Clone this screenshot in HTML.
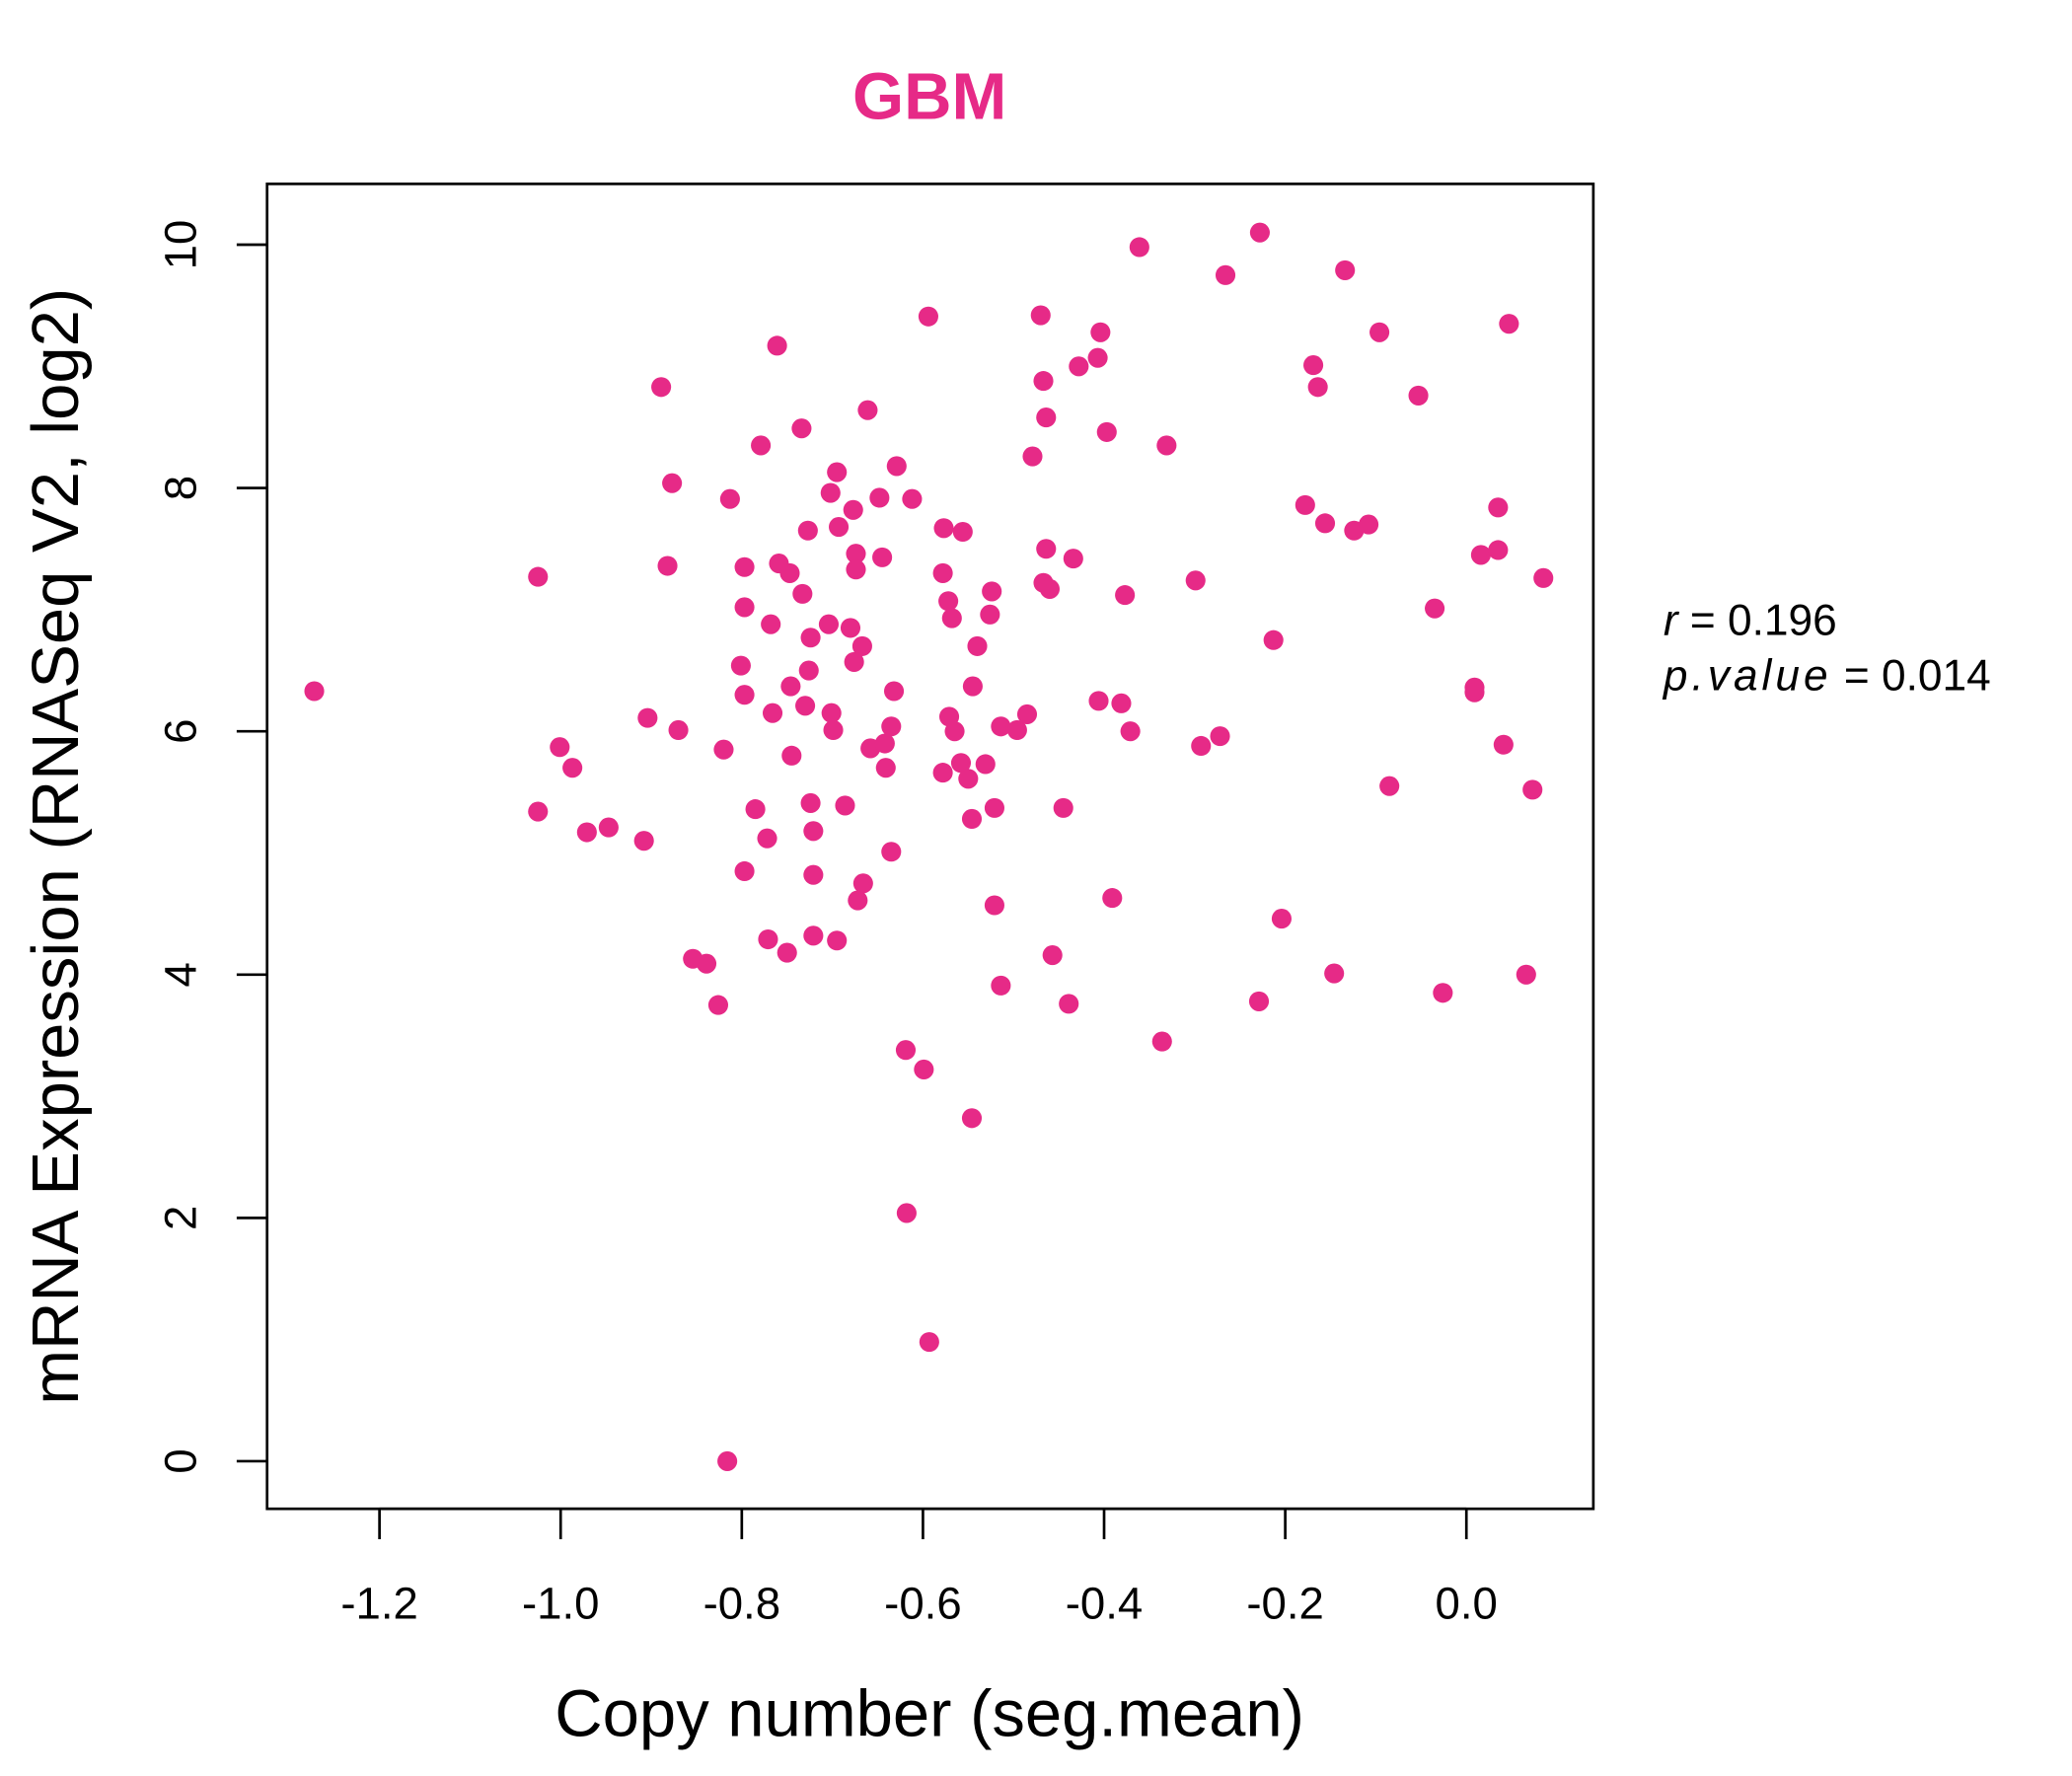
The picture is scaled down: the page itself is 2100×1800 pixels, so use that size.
<!DOCTYPE html>
<html><head><meta charset="utf-8"><style>
html,body{margin:0;padding:0;background:#fff;}
svg{display:block;font-family:"Liberation Sans",Arial,sans-serif;}
</style></head><body>
<svg id="chart" width="2100" height="1800" viewBox="0 0 1567 1343" xmlns="http://www.w3.org/2000/svg">
<text x="703" y="90" text-anchor="middle" font-size="50" font-weight="bold" fill="#E62A87">GBM</text>
<rect x="202" y="139" width="1003" height="1002" fill="none" stroke="#000" stroke-width="2"/>
<g id="xaxis"></g>
<g id="yaxis"></g>
<g id="points"></g>
<text x="703" y="1313" text-anchor="middle" font-size="50">Copy number (seg.mean)</text>
<text transform="translate(59,640) rotate(-90)" text-anchor="middle" font-size="50">mRNA Expression (RNASeq V2, log2)</text>
<text x="1258" y="480" font-size="33"><tspan font-style="italic">r</tspan> = 0.196</text>
<text x="1258" y="522" font-size="33"><tspan font-style="italic" letter-spacing="3">p.value</tspan> = 0.014</text>
</svg>
<script>
const xTicks = [-1.2, -1.0, -0.8, -0.6, -0.4, -0.2, 0.0];
const xTickLabels = ["-1.2", "-1.0", "-0.8", "-0.6", "-0.4", "-0.2", "0.0"];
const yTicks = [0, 2, 4, 6, 8, 10];
const yTickLabels = ["0", "2", "4", "6", "8", "10"];
const copyNumber = [-1.272,-1.025,-1.025,-1.001,-0.987,-0.971,-0.947,-0.908,-0.904,-0.889,-0.877,-0.882,-0.870,-0.854,-0.839,-0.826,-0.820,-0.816,-0.813,-0.801,-0.797,-0.797,-0.797,-0.797,-0.785,-0.779,-0.772,-0.771,-0.768,-0.766,-0.761,-0.759,-0.750,-0.747,-0.746,-0.745,-0.734,-0.733,-0.730,-0.727,-0.726,-0.724,-0.724,-0.721,-0.721,-0.721,-0.704,-0.702,-0.701,-0.699,-0.695,-0.695,-0.693,-0.686,-0.680,-0.677,-0.676,-0.674,-0.674,-0.672,-0.667,-0.666,-0.661,-0.658,-0.648,-0.645,-0.642,-0.641,-0.635,-0.635,-0.632,-0.629,-0.619,-0.618,-0.612,-0.599,-0.594,-0.593,-0.578,-0.578,-0.577,-0.572,-0.571,-0.568,-0.565,-0.558,-0.556,-0.550,-0.546,-0.546,-0.545,-0.540,-0.531,-0.526,-0.524,-0.521,-0.521,-0.514,-0.514,-0.496,-0.485,-0.479,-0.470,-0.467,-0.467,-0.464,-0.464,-0.460,-0.457,-0.445,-0.439,-0.434,-0.428,-0.407,-0.406,-0.404,-0.397,-0.391,-0.381,-0.377,-0.371,-0.361,-0.336,-0.331,-0.299,-0.293,-0.272,-0.266,-0.229,-0.228,-0.213,-0.204,-0.178,-0.169,-0.164,-0.156,-0.146,-0.134,-0.124,-0.108,-0.096,-0.085,-0.053,-0.035,-0.026,0.009,0.009,0.016,0.035,0.035,0.041,0.047,0.066,0.073,0.085];
const expression = [6.33,7.27,5.34,5.87,5.70,5.17,5.21,5.10,6.11,8.83,8.04,7.36,6.01,4.13,4.09,3.75,5.85,0,7.91,6.54,7.35,7.02,6.30,4.85,5.36,8.35,5.12,4.29,6.88,6.15,9.17,7.38,4.18,7.30,6.37,5.80,8.49,7.13,6.21,7.65,6.50,6.77,5.41,5.18,4.82,4.32,6.88,7.96,6.15,6.01,8.13,4.28,7.68,5.39,6.85,7.82,6.57,7.46,7.33,4.61,6.70,4.75,8.64,5.86,7.92,7.43,5.90,5.70,6.04,5.01,6.33,8.18,3.38,2.04,7.91,3.22,9.41,0.98,5.66,7.30,7.67,7.07,6.12,6.93,6.00,5.74,7.64,5.61,2.82,5.28,6.37,6.70,5.73,6.96,7.15,5.37,4.57,6.04,3.91,6.01,6.14,8.26,9.42,8.88,7.22,8.58,7.50,7.17,4.16,5.37,3.76,7.42,9.00,9.07,6.25,9.28,8.46,4.63,6.23,7.12,6.00,9.98,3.45,8.35,7.24,5.88,5.96,9.75,3.78,10.10,6.75,4.46,7.86,9.01,8.83,7.71,4.01,9.79,7.65,7.70,9.28,5.55,8.76,7.01,3.85,6.36,6.32,7.45,7.84,7.49,5.89,9.35,4.00,5.52,7.26];

const NS = "http://www.w3.org/2000/svg";
function xScale(v){ return 1109 + v * 685; }
function yScale(v){ return 1105 - v * 92; }
function mk(tag, attrs, parent){
  const e = document.createElementNS(NS, tag);
  for (const k in attrs) e.setAttribute(k, attrs[k]);
  parent.appendChild(e);
  return e;
}
const xg = document.getElementById('xaxis');
mk('line', {x1: xScale(xTicks[0]), x2: xScale(xTicks[xTicks.length-1]), y1: 1141, y2: 1141, stroke: '#000', 'stroke-width': 2}, xg);
xTicks.forEach((t, i) => {
  const l = mk('line', {x1: xScale(t), x2: xScale(t), y1: 1141, y2: 1164, stroke: '#000', 'stroke-width': 2}, xg);
  
  
  const tx = mk('text', {x: xScale(t), y: 1224, 'text-anchor': 'middle', 'font-size': 34}, xg);
  tx.textContent = xTickLabels[i];
  
  
});
const yg = document.getElementById('yaxis');
yTicks.forEach((t, i) => {
  const l = mk('line', {x1: 179, x2: 202, y1: yScale(t), y2: yScale(t), stroke: '#000', 'stroke-width': 2}, yg);
  
  
  const y = yScale(t);
  const tx = mk('text', {x: 0, y: 0, transform: 'translate(148,' + y + ') rotate(-90)', 'text-anchor': 'middle', 'font-size': 34}, yg);
  tx.textContent = yTickLabels[i];
  
  
});
const pg = document.getElementById('points');
copyNumber.forEach((c, i) => {
  const p = mk('circle', {cx: xScale(c), cy: yScale(expression[i]), r: 7.5, fill: '#E62A87'}, pg);
  
  
});
</script>
</body></html>
